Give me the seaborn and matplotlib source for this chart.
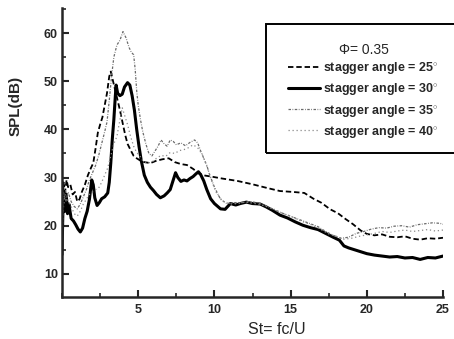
import numpy as np
import pandas as pd
import matplotlib
matplotlib.use("Agg")
import matplotlib.pyplot as plt
from matplotlib.patches import Rectangle
from matplotlib.ticker import MultipleLocator
import seaborn as sns

# stagger angle = 25 deg (dashed)
st_25 = [0.0, 0.1, 0.2, 0.3, 0.4, 0.55, 0.7, 0.85, 1.0, 1.15, 1.3, 1.5, 1.7, 1.9,
         2.05, 2.2, 2.35, 2.5, 2.65, 2.8, 2.95, 3.1, 3.2, 3.35, 3.5, 3.65, 3.8, 4.0,
         4.15, 4.3, 4.5, 4.7, 4.9, 5.1, 5.4, 5.8, 6.2, 6.6, 7.0, 7.4, 7.8, 8.2, 8.6,
         9.0, 9.4, 9.8, 10.5, 11.5, 12.5, 13.5, 14.3, 15.2, 15.9, 16.5, 17.0, 17.6,
         18.1, 18.6, 19.1, 19.6, 20.0, 20.5, 21.0, 21.5, 22.0, 22.5, 23.0, 23.5,
         24.0, 24.5, 25.0]
spl_25 = [22, 29, 27, 29.5, 28, 28.5, 26.5, 27, 25, 25.5, 27, 28.5, 30.5, 32,
          33, 36, 39.3, 41, 42.5, 45, 47.5, 51, 52, 50, 48, 46, 44, 41,
          38.8, 37, 35.7, 34.5, 34, 33.6, 33.2, 33, 33.5, 33.8, 34, 33.2, 32.8, 32.6, 31.8,
          30.8, 30.4, 30.2, 29.8, 29.3, 28.6, 27.8, 27.2, 27, 26.8, 25.6, 24.8, 23.4,
          22.6, 21.4, 20.3, 19.0, 18.3, 18.0, 18.2, 17.7, 17.6, 17.8, 17.3, 17.1,
          17.4, 17.3, 17.5]

# stagger angle = 30 deg (solid)
st_30 = [0.0, 0.05, 0.12, 0.2, 0.28, 0.36, 0.45, 0.6, 0.75, 0.9, 1.05, 1.2, 1.35,
         1.5, 1.65, 1.8, 1.95, 2.05, 2.15, 2.3, 2.45, 2.6, 2.8, 3.0, 3.1, 3.2, 3.3,
         3.4, 3.5, 3.55, 3.65, 3.8, 3.95, 4.1, 4.3, 4.45, 4.6, 4.75, 4.9, 5.05, 5.2,
         5.4, 5.6, 5.8, 6.0, 6.2, 6.45, 6.7, 6.9, 7.1, 7.3, 7.45, 7.6, 7.8, 8.0, 8.2,
         8.4, 8.6, 8.8, 8.95, 9.1, 9.3, 9.5, 9.75, 10.0, 10.4, 10.7, 11.05, 11.4,
         11.7, 12.1, 12.5, 13.0, 13.4, 13.8, 14.3, 14.8, 15.3, 15.8, 16.3, 16.8,
         17.3, 17.8, 18.2, 18.5, 18.8, 19.2, 19.6, 20.0, 20.5, 21.0, 21.5, 22.0,
         22.5, 23.0, 23.5, 24.0, 24.5, 25.0]
spl_30 = [14, 22, 27, 23, 26.5, 22.5, 24.5, 21.5, 21, 20.2, 19.3, 18.7, 19.5,
          21.5, 23, 25.5, 29.5, 28.5, 25.8, 24.2, 24.8, 25.6, 26, 26.8, 29, 33, 38,
          42, 47, 49.2, 47.5, 47, 47.3, 48.8, 49.7, 49.2, 47, 44, 40, 36.5, 33.5,
          30.5, 29, 28, 27.3, 26.5, 25.8, 26.2, 26.8, 27.5, 29.5, 31, 30, 29.2, 29.5, 29.3,
          29.8, 30.2, 30.8, 31.2, 30.6, 29.3, 27.5, 25.6, 24.6, 23.5, 23.4, 24.6, 24.3,
          24.6, 24.9, 24.6, 24.5, 23.9, 23.2, 22.2, 21.6, 20.8, 20.1, 19.6, 19.2,
          18.4, 17.6, 17.0, 15.8, 15.4, 15.0, 14.6, 14.2, 13.9, 13.7, 13.5, 13.6,
          13.3, 13.4, 13.0, 13.4, 13.3, 13.7]

# stagger angle = 35 deg
st_35 = [0.0, 0.1, 0.25, 0.4, 0.6, 0.8, 1.0, 1.2, 1.4, 1.6, 1.8, 2.0, 2.2, 2.4,
         2.6, 2.8, 2.95, 3.1, 3.25, 3.4, 3.6, 3.8, 4.0, 4.2, 4.4, 4.55, 4.7, 4.8,
         4.9, 5.0, 5.15, 5.3, 5.5, 5.7, 5.9, 6.1, 6.3, 6.5, 6.7, 6.9, 7.1, 7.3, 7.5,
         7.8, 8.1, 8.4, 8.7, 8.9, 9.1, 9.3, 9.5, 9.7, 10.0, 10.4, 10.8, 11.3, 11.8,
         12.3, 12.8, 13.3, 13.8, 14.3, 14.8, 15.3, 15.8, 16.3, 16.8, 17.3, 17.8,
         18.3, 18.8, 19.3, 19.8, 20.3, 20.8, 21.3, 21.8, 22.3, 22.8, 23.3, 23.8,
         24.3, 24.8, 25.0]
spl_35 = [20, 27, 25, 27, 25, 24, 23.5, 24.5, 26, 27.5, 29.5, 31, 32.5, 34.5,
          37, 39.5, 41.5, 46, 51, 55, 57.5, 58.5, 60.3, 59, 57, 56, 55.5, 52.5,
          48, 45, 42, 39.5, 37, 35, 34.5, 35.5, 36.5, 37.8, 37, 36.5, 37.8, 37.5, 36.8,
          37.2, 36.6, 37.3, 37.8, 37.2, 35.5, 34, 32.5, 30.5, 28, 25.5, 24.6, 24.8, 24.8,
          25.0, 24.8, 24.2, 23.5, 22.8, 22.2, 21.6, 21.0, 20.4, 19.8, 18.8, 18.0,
          17.4, 17.6, 18.4, 18.8, 19.3, 19.6, 19.5, 19.9, 20.0, 19.7, 20.2, 20.4,
          20.6, 20.5, 20.3]

# stagger angle = 40 deg
st_40 = [0.0, 0.1, 0.25, 0.4, 0.6, 0.8, 1.0, 1.2, 1.4, 1.6, 1.8, 2.0, 2.2, 2.4,
         2.6, 2.8, 3.0, 3.2, 3.4, 3.6, 3.8, 3.95, 4.1, 4.3, 4.5, 4.7, 4.9, 5.1, 5.3,
         5.6, 5.9, 6.2, 6.5, 6.8, 7.1, 7.4, 7.7, 8.0, 8.3, 8.6, 8.9, 9.2, 9.5, 9.8,
         10.1, 10.5, 11.0, 11.5, 12.0, 12.5, 13.0, 13.5, 14.0, 14.5, 15.0, 15.5,
         16.0, 16.5, 17.0, 17.5, 18.0, 18.5, 19.0, 19.5, 20.0, 20.5, 21.0, 21.5,
         22.0, 22.5, 23.0, 23.5, 24.0, 24.5, 25.0]
spl_40 = [18, 24, 27.5, 25, 24, 22.5, 22, 23, 24.5, 25.5, 26.5, 27, 27.5, 27.8,
          29, 30.5, 32, 34.5, 37, 38.5, 42, 44.5, 43, 41, 38.5, 36.5, 35.2, 34.5, 33.5,
          33.0, 33.2, 34, 34.6, 34.4, 35.2, 35, 35.6, 35.8, 36.2, 36.8, 36.2, 34.8, 32.4, 29.5,
          27, 25.2, 24.5, 24.6, 24.9, 24.7, 24.4, 23.9, 23.3, 22.5, 22, 21.2,
          20.6, 20, 19.2, 18.3, 17.8, 17.2, 17.4, 17.8, 18.1, 18.4, 18.8, 18.6,
          18.9, 19.1, 18.8, 19.0, 19.2, 18.9, 19.1]

labels = ["stagger angle = 25$^{\\circ}$", "stagger angle = 30$^{\\circ}$",
          "stagger angle = 35$^{\\circ}$", "stagger angle = 40$^{\\circ}$"]

sns.set_style("ticks")
plt.rcParams["font.family"] = ["Liberation Sans", "DejaVu Sans"]
plt.rcParams["mathtext.fontset"] = "custom"
plt.rcParams["mathtext.rm"] = "Liberation Sans:bold"

fig = plt.figure(figsize=(4.54, 3.39), dpi=100)
ax = fig.add_axes([0.1366, 0.1239, 0.8392, 0.8525])

series = [
    (st_25, spl_25, dict(color="black", lw=1.3, linestyle=(0, (3, 1.6)))),
    (st_30, spl_30, dict(color="black", lw=2.2, linestyle="-")),
    (st_35, spl_35, dict(color="#6a6a6a", lw=0.9, linestyle=(0, (2, 1.2, 0.6, 1.2)))),
    (st_40, spl_40, dict(color="#8a8a8a", lw=0.9, linestyle=(0, (1, 2.2)))),
]
for (xs, ys, style), lab in zip(series, labels):
    sns.lineplot(x=xs, y=ys, ax=ax, label=lab, **style)

ax.set_xlim(0, 25)
ax.set_ylim(5.2, 65.2)
ax.set_xticks([5, 10, 15, 20, 25])
ax.xaxis.set_minor_locator(MultipleLocator(2.5))
ax.set_yticks([10, 20, 30, 40, 50, 60])
ax.yaxis.set_minor_locator(MultipleLocator(5))
ax.tick_params(which="major", direction="in", length=5, width=1.5, labelsize=9, pad=3)
ax.tick_params(which="minor", direction="in", length=3, width=1.2)
for t in ax.get_xticklabels() + ax.get_yticklabels():
    t.set_fontweight("bold")
ax.tick_params(axis="x", pad=5)

for s in ["top", "right"]:
    ax.spines[s].set_visible(False)
for s in ["left", "bottom"]:
    ax.spines[s].set_linewidth(1.8)

ax.set_ylabel("SPL(dB)", fontsize=11, fontweight="bold")
ax.yaxis.set_label_coords(-0.103, 0.66)
ax.set_xlabel("St= fc/U", fontsize=11.5)
ax.xaxis.set_label_coords(0.564, -0.086)

fig.patches.append(Rectangle((266 / 454, 1 - 153 / 339), 0.5, 129 / 339,
                             transform=fig.transFigure, fill=False,
                             edgecolor="black", lw=1.4))

handles = ax.get_lines()
leg = ax.legend(handles=handles, labels=labels, title="Φ= 0.35",
                loc="upper left", bbox_to_anchor=(282 / 454, 1 - 37 / 339),
                bbox_transform=fig.transFigure, frameon=False, borderpad=0,
                fontsize=9, title_fontsize=10, labelspacing=0.42,
                handlelength=2.5, handletextpad=0.3)
for t in leg.get_texts():
    t.set_fontweight("bold")
leg._legend_box.sep = 2

fig.savefig("out.png", dpi=100)
